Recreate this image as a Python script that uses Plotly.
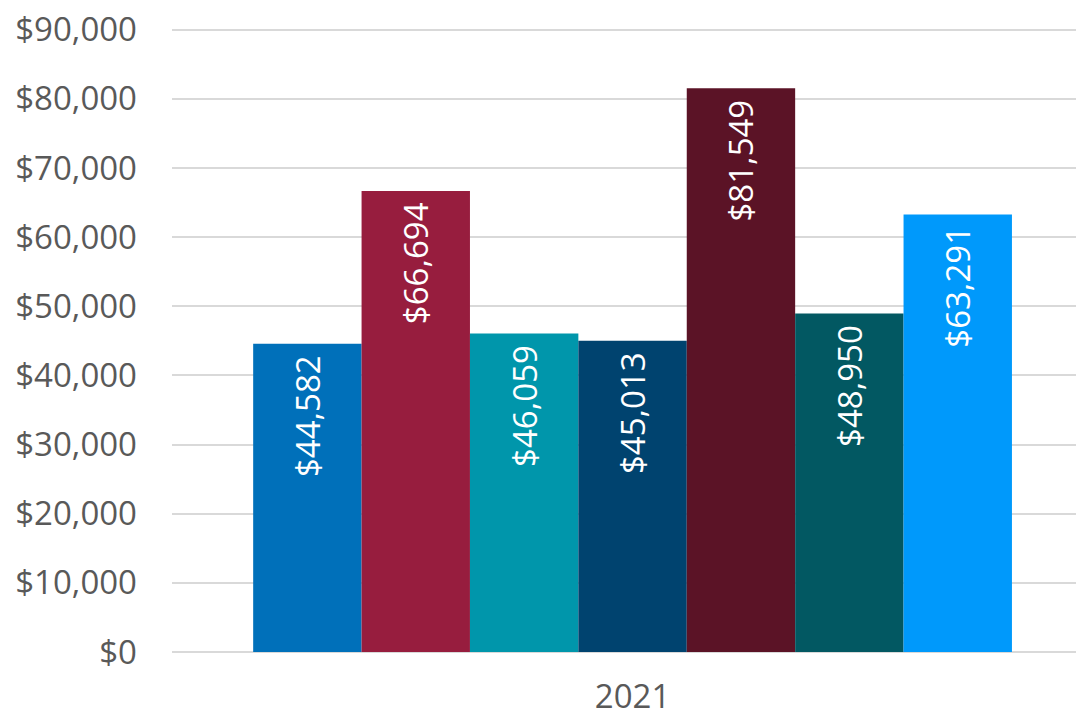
import plotly.graph_objects as go

category = ["2021"]
series_values = [44582, 66694, 46059, 45013, 81549, 48950, 63291]
series_colors = ["#0070BA", "#971D3E", "#0096AB", "#00436F", "#5B1326", "#025862", "#0099FB"]
tick_values = list(range(0, 90001, 10000))
tick_labels = ["$" + format(v, ",") for v in tick_values]

fig = go.Figure()
for v, c in zip(series_values, series_colors):
    fig.add_trace(go.Bar(
        x=category, y=[v], marker=dict(color=c, line=dict(width=0)),
        text=["$" + format(v, ",") + "\u00a0"], textposition="inside", insidetextanchor="end",
        textangle=-90, textfont=dict(color="white", size=33, family="Open Sans"),
        constraintext="none", showlegend=False,
    ))

fig.update_layout(
    width=1076, height=706,
    margin=dict(l=164, r=0, t=19, b=62),
    plot_bgcolor="white", paper_bgcolor="white",
    barmode="group", bargap=0.168, bargroupgap=0,
    font=dict(family="Open Sans", color="#595959", size=33),
)
fig.update_yaxes(range=[0, 90400], tickvals=tick_values, ticktext=tick_labels,
                 showgrid=True, gridcolor="#D9D9D9", gridwidth=2, zeroline=True,
                 zerolinecolor="#D9D9D9", zerolinewidth=2, showline=False, ticks="",
                 ticklabelstandoff=34, automargin=False, ticklabeloverflow="allow")
fig.update_xaxes(range=[-0.505, 0.495], showline=False, ticks="", ticklabelstandoff=22,
                 automargin=False, ticklabeloverflow="allow")

fig.write_html("out.html")
